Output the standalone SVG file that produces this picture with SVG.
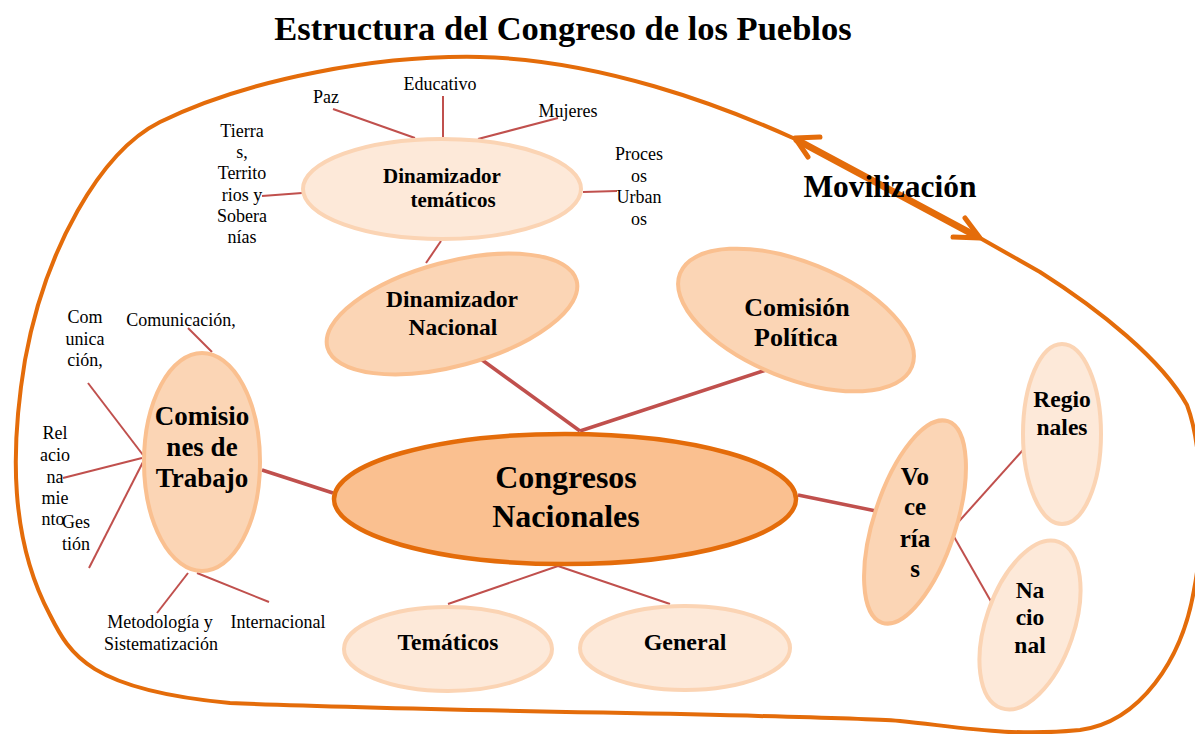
<svg xmlns="http://www.w3.org/2000/svg" width="1195" height="734" viewBox="0 0 1195 734">
<style>
.bold{font-family:"Liberation Serif","Times New Roman",serif;font-weight:bold;fill:#000;text-anchor:middle}
.lbl{font-family:"Liberation Serif","Times New Roman",serif;font-size:18px;fill:#000;text-anchor:middle}
.mid{fill:#FBD5B5;stroke:#FAC090;stroke-width:4}
.light{fill:#FDE9D9;stroke:#FBD4B4;stroke-width:4}
.main{fill:#FAC090;stroke:#E46C0A;stroke-width:4.5}
.thin{stroke:#C0504D;stroke-width:2;fill:none}
.thick{stroke:#C0504D;stroke-width:3.5;fill:none}
.orange{stroke:#E46C0A;fill:none;stroke-linecap:round;stroke-linejoin:round}
</style>
<rect width="1195" height="734" fill="#fff"/>
<text class="bold" x="563" y="40" font-size="34.5">Estructura del Congreso de los Pueblos</text>
<g id="outline">
<path class="orange" stroke-width="4" d="M 793,138 C 720,105 600,60 480,57 C 380,55 250,78 160,122 C 100,152 45,250 25,360 C 10,450 10,540 50,615 C 70,655 90,690 230,703 C 450,712 800,714 900,721 C 960,727 1010,737 1080,730 C 1140,722 1182,660 1194,590 C 1204,540 1204,450 1187,405 C 1162,360 1100,310 1040,272 L 980,238"/>
</g>
<g id="movilizacion">
<line class="orange" x1="797" y1="140" x2="976" y2="236" stroke-width="7"/>
<path class="orange" stroke-width="5" d="M 820,137 L 795,138 L 808,157 M 953,237 L 980,238 L 965,218"/>
<text class="bold" x="890" y="197" font-size="31.5">Movilización</text>
</g>
<g id="connectors">
<line class="thin" x1="333" y1="109" x2="415" y2="138"/>
<line class="thin" x1="443" y1="96" x2="443" y2="137"/>
<line class="thin" x1="558" y1="118" x2="478" y2="139"/>
<line class="thin" x1="583" y1="192" x2="617" y2="191"/>
<line class="thin" x1="262" y1="196" x2="302" y2="193"/>
<line class="thin" x1="441" y1="241" x2="426" y2="263"/>
<line class="thick" x1="478" y1="357" x2="580" y2="431"/>
<line class="thick" x1="580" y1="431" x2="766" y2="370"/>
<line class="thin" x1="188" y1="328" x2="212" y2="352"/>
<line class="thin" x1="88" y1="383" x2="143" y2="455"/>
<line class="thin" x1="63" y1="478" x2="142" y2="458"/>
<line class="thin" x1="89" y1="568" x2="143" y2="462"/>
<line class="thin" x1="157" y1="613" x2="188" y2="573"/>
<line class="thin" x1="197" y1="573" x2="269" y2="602"/>
<line class="thick" x1="262" y1="470" x2="333" y2="493"/>
<line class="thin" stroke-width="2.5" x1="558" y1="566" x2="448" y2="604"/>
<line class="thin" stroke-width="2.5" x1="558" y1="566" x2="670" y2="604"/>
<line class="thick" x1="798" y1="495" x2="876" y2="511"/>
<line class="thin" x1="953" y1="528" x2="1023" y2="450"/>
<line class="thin" x1="953" y1="535" x2="993" y2="605"/>
</g>
<g id="tematicos-labels">
<text class="lbl" x="326" y="103">Paz</text>
<text class="lbl" x="440" y="90">Educativo</text>
<text class="lbl" x="568" y="117">Mujeres</text>
<text class="lbl" x="639" y="160">Proces</text>
<text class="lbl" x="639" y="182">os</text>
<text class="lbl" x="639" y="203">Urban</text>
<text class="lbl" x="639" y="225">os</text>
<text class="lbl" x="242" y="137">Tierra</text>
<text class="lbl" x="242" y="158">s,</text>
<text class="lbl" x="242" y="179">Territo</text>
<text class="lbl" x="242" y="201">rios y</text>
<text class="lbl" x="242" y="222">Sobera</text>
<text class="lbl" x="242" y="243">nías</text>
</g>
<g id="trabajo-labels">
<text class="lbl" x="85" y="323">Com</text>
<text class="lbl" x="85" y="345">unica</text>
<text class="lbl" x="85" y="366">ción,</text>
<text class="lbl" x="181" y="326">Comunicación,</text>
<text class="lbl" x="55" y="439">Rel</text>
<text class="lbl" x="55" y="461">acio</text>
<text class="lbl" x="55" y="483">na</text>
<text class="lbl" x="55" y="504">mie</text>
<text class="lbl" x="53" y="525">nto</text>
<text class="lbl" x="76" y="528">Ges</text>
<text class="lbl" x="76" y="550">tión</text>
<text class="lbl" x="160" y="628">Metodología y</text>
<text class="lbl" x="161" y="650">Sistematización</text>
<text class="lbl" x="278" y="628">Internacional</text>
</g>
<g id="dinamizador-tematicos">
<ellipse class="light" cx="442" cy="189" rx="139" ry="50"/>
<text class="bold" font-size="21" x="442" y="183">Dinamizador</text>
<text class="bold" font-size="21" x="453" y="207">temáticos</text>
</g>
<g id="dinamizador-nacional">
<ellipse class="mid" cx="452" cy="314" rx="129" ry="52" transform="rotate(-15 452 314)"/>
<text class="bold" font-size="23.5" x="452" y="307">Dinamizador</text>
<text class="bold" font-size="23.5" x="453" y="335">Nacional</text>
</g>
<g id="comision-politica">
<ellipse class="mid" cx="796" cy="320" rx="125" ry="58" transform="rotate(22 796 320)"/>
<text class="bold" font-size="26" x="797" y="316">Comisión</text>
<text class="bold" font-size="26" x="796" y="346">Política</text>
</g>
<g id="comisiones-trabajo">
<ellipse class="mid" cx="202" cy="462" rx="58" ry="109"/>
<text class="bold" font-size="27" x="202" y="425">Comisio</text>
<text class="bold" font-size="27" x="202" y="456">nes de</text>
<text class="bold" font-size="27" x="202" y="487">Trabajo</text>
</g>
<g id="congresos-nacionales">
<ellipse class="main" cx="565" cy="499" rx="231" ry="65"/>
<text class="bold" font-size="32" x="566" y="488">Congresos</text>
<text class="bold" font-size="32" x="566" y="527">Nacionales</text>
</g>
<g id="tematicos">
<ellipse class="light" cx="448" cy="649" rx="104" ry="42"/>
<text class="bold" font-size="23.5" x="448" y="650">Temáticos</text>
</g>
<g id="general">
<ellipse class="light" cx="685" cy="648" rx="105" ry="42"/>
<text class="bold" font-size="24" x="685" y="650">General</text>
</g>
<g id="vocerias">
<ellipse class="mid" cx="915" cy="522" rx="41" ry="106" transform="rotate(18 915 522)"/>
<text class="bold" font-size="25" x="915" y="485">Vo</text>
<text class="bold" font-size="25" x="915" y="515">ce</text>
<text class="bold" font-size="25" x="915" y="547">ría</text>
<text class="bold" font-size="25" x="915" y="577">s</text>
</g>
<g id="regionales">
<ellipse class="light" cx="1062" cy="434" rx="39" ry="90"/>
<text class="bold" font-size="23.5" x="1062" y="407">Regio</text>
<text class="bold" font-size="23.5" x="1062" y="435">nales</text>
</g>
<g id="nacional">
<ellipse class="light" cx="1030" cy="625" rx="44" ry="88" transform="rotate(19 1030 625)"/>
<text class="bold" font-size="23.5" x="1030" y="598">Na</text>
<text class="bold" font-size="23.5" x="1030" y="625">cio</text>
<text class="bold" font-size="23.5" x="1030" y="653">nal</text>
</g>
</svg>
